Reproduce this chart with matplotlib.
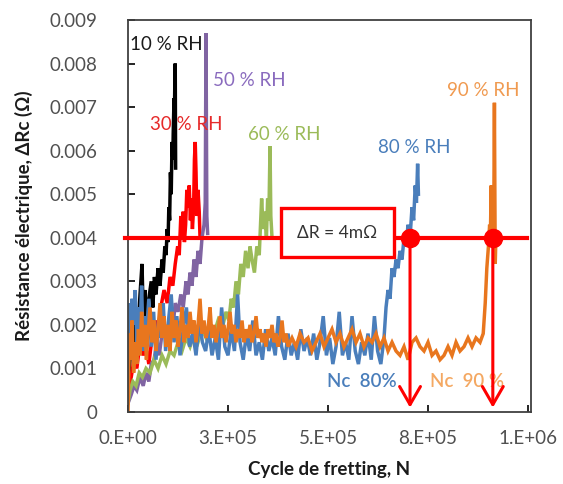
import numpy as np
import matplotlib
matplotlib.use('Agg')
import matplotlib.pyplot as plt

plt.rcParams['font.family'] = ['Lato', 'DejaVu Sans']

# cycles in thousands, resistance in ohm
rh10_x = [0, 5, 10, 15, 20, 25, 30, 35, 38, 42, 48, 52, 58, 62, 66, 70, 75, 80, 85, 88, 92, 95, 98,
          100, 102, 104, 106, 108, 110, 112, 113, 115, 116, 117, 118, 119]
rh10_y = [0.0005, 0.0012, 0.0018, 0.0015, 0.0022, 0.0019, 0.0027, 0.0034, 0.0022, 0.0028, 0.0020,
          0.0026, 0.0030, 0.0024, 0.0031, 0.0027, 0.0033, 0.0029, 0.0035, 0.0032, 0.0038, 0.0036,
          0.0042, 0.0039, 0.0047, 0.0044, 0.0055, 0.0050, 0.0062, 0.0058, 0.0064, 0.0072, 0.0068,
          0.0076, 0.0080, 0.0056]

rh30_x = [0, 8, 15, 22, 30, 38, 45, 52, 60, 68, 75, 82, 90, 98, 105, 112, 118, 124, 128, 132, 135,
          138, 141, 144, 147, 150, 153, 156, 158, 161, 164, 166, 168, 170, 172, 175, 178, 180]
rh30_y = [0.0003, 0.0008, 0.0012, 0.0010, 0.0016, 0.0013, 0.0015, 0.0011, 0.0017, 0.0021, 0.0018,
          0.0024, 0.0028, 0.0025, 0.0031, 0.0029, 0.0034, 0.0038, 0.0036, 0.0045, 0.0040, 0.0046,
          0.0039, 0.0043, 0.0051, 0.0047, 0.0052, 0.0044, 0.0049, 0.0042, 0.0047, 0.0058, 0.0062,
          0.0055, 0.0045, 0.0051, 0.0046, 0.0040]

rh50_x = [0, 8, 15, 22, 30, 38, 45, 52, 58, 65, 72, 78, 85, 92, 98, 105, 112, 118, 125, 132, 138,
          145, 150, 155, 160, 165, 170, 175, 180, 185, 190, 193, 195, 197, 199]
rh50_y = [0.0002, 0.0004, 0.0006, 0.0005, 0.0008, 0.0006, 0.0009, 0.0007, 0.0011, 0.0012, 0.0016,
          0.0013, 0.0018, 0.0020, 0.0017, 0.0022, 0.0019, 0.0025, 0.0023, 0.0027, 0.0024, 0.0030,
          0.0027, 0.0032, 0.0029, 0.0035, 0.0031, 0.0037, 0.0034, 0.0040, 0.0043, 0.0048, 0.0087,
          0.0045, 0.0041]

rh60_x = [0, 5, 12, 20, 28, 36, 45, 55, 65, 75, 85, 95, 105, 115, 125, 135, 145, 155, 165, 175, 185,
          195, 205, 215, 225, 235, 245, 252, 258, 264, 270, 276, 282, 288, 294, 300, 305, 310, 316,
          322, 328, 334, 338, 342, 346, 349, 352, 355, 357, 360]
rh60_y = [0.0002, 0.0005, 0.0007, 0.0006, 0.0009, 0.0008, 0.0010, 0.0009, 0.0012, 0.0010, 0.0013,
          0.0011, 0.0014, 0.0013, 0.0016, 0.0014, 0.0017, 0.0015, 0.0018, 0.0016, 0.0019, 0.0017,
          0.0020, 0.0018, 0.0021, 0.0019, 0.0023, 0.0021, 0.0026, 0.0024, 0.0030, 0.0027, 0.0034,
          0.0031, 0.0037, 0.0033, 0.0038, 0.0035, 0.0032, 0.0038, 0.0036, 0.0049, 0.0042, 0.0046,
          0.0040, 0.0049, 0.0044, 0.0061, 0.0045, 0.0040]

rh80_x = [0, 3, 6, 10, 14, 18, 22, 26, 30, 34, 38, 42, 46, 52, 58, 64, 70, 76, 82, 88, 94, 100, 108,
          115, 122, 130, 138, 146, 154, 162, 170, 178, 186, 194, 202, 210, 218, 226, 234, 242, 250,
          258, 266, 274, 280, 288, 296, 304, 312, 320, 328, 336, 344, 352, 360, 368, 376, 384, 392,
          400, 408, 416, 424, 432, 440, 448, 456, 464, 472, 480, 488, 496, 504, 512, 520, 528, 536,
          544, 552, 560, 568, 576, 584, 592, 600, 608, 616, 624, 632, 640, 645, 650, 655, 660, 665,
          670, 675, 680, 685, 690, 695, 700, 705, 710, 714, 718, 721, 724, 726]
rh80_y = [0.0017, 0.0025, 0.0013, 0.0026, 0.0020, 0.0028, 0.0016, 0.0024, 0.0019, 0.0029, 0.0014,
          0.0022, 0.0018, 0.0026, 0.0015, 0.0023, 0.0012, 0.0021, 0.0017, 0.0025, 0.0014, 0.0020,
          0.0027, 0.0016, 0.0022, 0.0013, 0.0019, 0.0024, 0.0015, 0.0018, 0.0013, 0.0021, 0.0016,
          0.0014, 0.0019, 0.0013, 0.0017, 0.0012, 0.0024, 0.0015, 0.0013, 0.0019, 0.0014, 0.0027,
          0.0016, 0.0012, 0.0018, 0.0014, 0.0021, 0.0013, 0.0016, 0.0012, 0.0019, 0.0014, 0.0017,
          0.0013, 0.0022, 0.0015, 0.0012, 0.0018, 0.0013, 0.0016, 0.0012, 0.0019, 0.0014, 0.0017,
          0.0013, 0.0018, 0.0012, 0.0016, 0.0022, 0.0013, 0.0017, 0.0011, 0.0015, 0.0023, 0.0013,
          0.0016, 0.0012, 0.0022, 0.0014, 0.0011, 0.0016, 0.0013, 0.0018, 0.0012, 0.0022, 0.0014,
          0.0011, 0.0017, 0.0024, 0.0028, 0.0026, 0.0033, 0.0031, 0.0035, 0.0033, 0.0037, 0.0035,
          0.0040, 0.0038, 0.0043, 0.0040, 0.0047, 0.0044, 0.0052, 0.0048, 0.0057, 0.0050]

rh90_x = [0, 2, 4, 7, 10, 14, 18, 22, 26, 30, 34, 38, 42, 46, 50, 55, 60, 65, 70, 75, 80, 85, 90, 95,
          100, 105, 110, 115, 120, 125, 130, 135, 140, 145, 150, 155, 160, 165, 170, 175, 180, 185,
          190, 195, 200, 205, 210, 215, 220, 225, 230, 235, 240, 245, 250, 255, 260, 265, 270, 275,
          280, 285, 290, 295, 300, 305, 310, 315, 320, 325, 330, 335, 340, 345, 350, 355, 360, 365,
          370, 375, 380, 385, 390, 395, 400, 410, 420, 430, 440, 450, 460, 470, 480, 490, 500, 510,
          520, 530, 540, 550, 560, 570, 580, 590, 600, 610, 620, 630, 640, 650, 660, 670, 680, 690,
          700, 710, 720, 730, 740, 750, 760, 770, 780, 790, 800, 810, 820, 830, 840, 850, 860, 870,
          880, 888, 893, 897, 901, 904, 906, 908, 910, 912, 914, 916, 918, 920]
rh90_y = [0.0000, 0.0010, 0.0018, 0.0012, 0.0021, 0.0009, 0.0016, 0.0011, 0.0019, 0.0013, 0.0023,
          0.0015, 0.0020, 0.0012, 0.0018, 0.0024, 0.0016, 0.0021, 0.0014, 0.0019, 0.0025, 0.0017,
          0.0022, 0.0015, 0.0020, 0.0014, 0.0023, 0.0017, 0.0021, 0.0015, 0.0019, 0.0024, 0.0016,
          0.0020, 0.0017, 0.0023, 0.0018, 0.0021, 0.0016, 0.0020, 0.0026, 0.0018, 0.0021, 0.0017,
          0.0019, 0.0024, 0.0017, 0.0020, 0.0016, 0.0019, 0.0022, 0.0017, 0.0020, 0.0016, 0.0019,
          0.0023, 0.0018, 0.0020, 0.0016, 0.0019, 0.0017, 0.0021, 0.0016, 0.0019, 0.0017, 0.0020,
          0.0016, 0.0018, 0.0022, 0.0017, 0.0019, 0.0016, 0.0018, 0.0015, 0.0019, 0.0017, 0.0020,
          0.0016, 0.0018, 0.0015, 0.0017, 0.0021, 0.0016, 0.0018, 0.0015, 0.0017, 0.0015, 0.0018,
          0.0016, 0.0017, 0.0014, 0.0016, 0.0018, 0.0015, 0.0017, 0.0019, 0.0016, 0.0018, 0.0015,
          0.0017, 0.0019, 0.0016, 0.0018, 0.0015, 0.0017, 0.0016, 0.0018, 0.0015, 0.0017, 0.0014,
          0.0016, 0.0014, 0.0013, 0.0015, 0.0012, 0.0016, 0.0017, 0.0015, 0.0014, 0.0016, 0.0013,
          0.0014, 0.0012, 0.0013, 0.0015, 0.0013, 0.0016, 0.0014, 0.0015, 0.0017, 0.0015, 0.0017,
          0.0016, 0.0018, 0.0025, 0.0033, 0.0038, 0.0043, 0.0041, 0.0052, 0.0040, 0.0045, 0.0039,
          0.0071, 0.0034, 0.0041]

series = [(rh10_x, rh10_y, '#000000'), (rh30_x, rh30_y, '#FF0000'), (rh50_x, rh50_y, '#8064A2'),
          (rh60_x, rh60_y, '#9BBB59'), (rh80_x, rh80_y, '#4A7EBB'), (rh90_x, rh90_y, '#E8761E')]

threshold = 0.004
nc_80 = 705e3
nc_90 = 912e3

x_ticks = [0, 2.5e5, 5e5, 7.5e5, 1e6]
x_tick_labels = ['0.E+00', '3.E+05', '5.E+05', '8.E+05', '1.E+06']
y_ticks = [0, 0.001, 0.002, 0.003, 0.004, 0.005, 0.006, 0.007, 0.008, 0.009]
y_tick_labels = ['0', '0.001', '0.002', '0.003', '0.004', '0.005', '0.006', '0.007', '0.008', '0.009']

fig = plt.figure(figsize=(5.63, 4.84), dpi=100)
ax = fig.add_axes([0.2274, 0.1488, 0.7158, 0.8099])

for xs, ys, c in series:
    ax.plot(np.array(xs) * 1e3, ys, color=c, lw=2.5, solid_joinstyle='miter')

# threshold line and box
ax.plot([-7.5e3, 997e3], [threshold, threshold], color='#FF0000', lw=3, clip_on=False, zorder=5)
ax.text(523e3, 0.00412, 'ΔR = 4mΩ', ha='center', va='center', fontsize=12.5, color='#333333', zorder=7,
        bbox=dict(boxstyle='square,pad=0.95', facecolor='white', edgecolor='#FF0000', lw=2.4))

for nc in [nc_80, nc_90]:
    ax.annotate('', xy=(nc, 0.0001), xytext=(nc, threshold),
                arrowprops=dict(arrowstyle='->,head_length=1.3,head_width=0.75', color='#FF0000',
                                lw=2.2, shrinkA=0, shrinkB=0), zorder=6)
    ax.plot(nc, threshold, 'o', color='#FF0000', ms=13, zorder=8)

# labels
ax.text(5e3, 0.00843, '10 % RH', color='#1a1a1a', fontsize=13.5, va='center')
ax.text(55e3, 0.00659, '30 % RH', color='#E62A2A', fontsize=13.5, va='center')
ax.text(212e3, 0.00762, '50 % RH', color='#8A6BBE', fontsize=13.5, va='center')
ax.text(300e3, 0.00636, '60 % RH', color='#9BBB59', fontsize=13.5, va='center')
ax.text(625e3, 0.00608, '80 % RH', color='#4A7EBB', fontsize=13.5, va='center')
ax.text(797e3, 0.00739, '90 % RH', color='#F09A50', fontsize=13.5, va='center')
ax.text(497e3, 0.00069, 'Nc  80%', color='#4A7EBB', fontsize=13.5, va='center', fontweight='semibold')
ax.text(755e3, 0.00069, 'Nc  90 %', color='#F4A862', fontsize=13.5, va='center', fontweight='semibold')

ax.set_xlim(0, 1.0075e6)
ax.set_ylim(0, 0.009)
ax.set_xticks(x_ticks)
ax.set_xticklabels(x_tick_labels)
ax.set_yticks(y_ticks)
ax.set_yticklabels(y_tick_labels)
ax.tick_params(direction='in', length=5, width=1.2, labelsize=13.5, labelcolor='#505050')
ax.tick_params(axis='y', pad=22)
ax.tick_params(axis='x', pad=13)
for s in ax.spines.values():
    s.set_color('#404040')
    s.set_linewidth(1.3)

ax.set_xlabel('Cycle de fretting, N', fontsize=13.5, fontweight='bold', color='#1a1a1a', labelpad=10)
ax.set_ylabel('Résistance électrique, ΔRc (Ω)', fontsize=13.5, fontweight='bold', color='#1a1a1a', labelpad=12)

fig.savefig('out.png', dpi=100)
